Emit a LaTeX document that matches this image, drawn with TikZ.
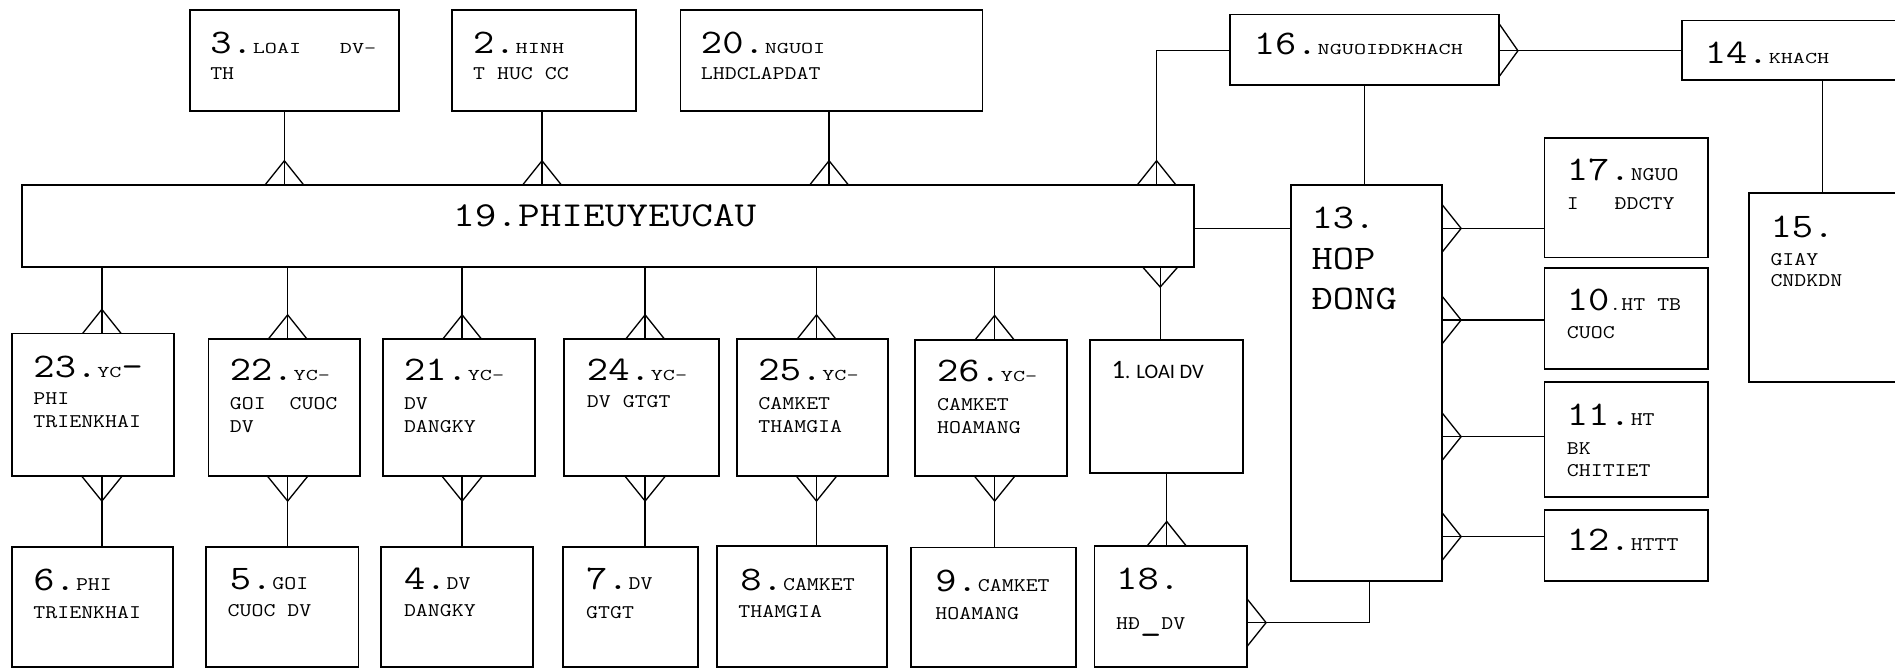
\documentclass[tikz,border=0pt]{standalone}
\usepackage{fontspec}
\newfontfamily\monofam[FakeStretch=1.2]{Latin Modern Mono}
\newfontfamily\monocap[FakeStretch=1.43]{Latin Modern Mono}
\newfontfamily\calfam{Carlito}
\newcommand\NumF{\monofam\fontsize{28.5}{28.5}\selectfont}
\newcommand\CapF{\monocap\fontsize{13.6}{13.6}\selectfont}
\newcommand\TxtF{\monofam\fontsize{16}{16}\selectfont}
% entity box given by its top-left and bottom-right corners
\newcommand\EntBox[5]{\node[ebox, minimum width={#4-#2}, minimum height={#5-#3}] (#1) at (#2,#3) {};}
\begin{document}
\begin{tikzpicture}[x=1pt,y=-1pt,
  ebox/.style={draw, line width=1.5pt, anchor=north west, inner sep=0pt, outer sep=0pt},
  link/.style={line width=1.1pt},
  lbl/.style={anchor=base west, inner sep=0pt, outer sep=0pt, font=\TxtF},
  crowup/.pic={\draw[link] (-16,0) -- (0,-20) -- (16,0);},
  crowdown/.pic={\draw[link] (-17,0) -- (0,21) -- (17,0);},
  crowdownsm/.pic={\draw[link] (-14.5,0) -- (0,16.5) -- (14.5,0);},
  crowright/.pic={\draw[link] (0,-20) -- (16,0) -- (0,20);},
  crowrightwide/.pic={\draw[link] (0,-23) -- (16,0) -- (0,22);}
]
\useasboundingbox (0,0) rectangle (1568,552);

% ---------- entities ----------
\EntBox{b3}{157}{8}{330}{92}
\EntBox{b2}{374}{8}{526}{92}
\EntBox{b20}{563}{8}{813}{92}
\EntBox{b16}{1018}{12}{1240}{70}
\EntBox{b14}{1392}{17}{1585}{66.5}
\EntBox{b19}{18}{153}{988}{221}
\EntBox{b13}{1068}{153}{1193}{481}
\EntBox{b17}{1278}{114}{1413}{213}
\EntBox{b10}{1278}{221.5}{1413}{305}
\EntBox{b11}{1278}{316}{1413}{411}
\EntBox{b12}{1278}{422}{1413}{480.5}
\EntBox{b15}{1447}{160}{1585}{316}

\EntBox{b23}{10}{276}{144}{393.6}
\EntBox{b22}{172.5}{280.5}{298}{393.6}
\EntBox{b21}{317}{280.5}{442.6}{393.6}
\EntBox{b24}{467}{280.5}{595}{393.6}
\EntBox{b25}{609.5}{280.5}{735}{393.6}
\EntBox{b26}{757}{281}{883}{393.6}
\EntBox{b1}{902}{281}{1028.5}{391.5}

\EntBox{b6}{10}{452.6}{143}{552}
\EntBox{b5}{170.6}{452.6}{296.6}{552}
\EntBox{b4}{315}{452.6}{441}{552}
\EntBox{b7}{466}{452.6}{577.5}{552}
\EntBox{b8}{593}{452}{734}{552}
\EntBox{b9}{754}{453}{890}{552}
\EntBox{b18}{905.6}{451.5}{1031.6}{552}

% ---------- labels ----------
\node[lbl] (t3a) at (174,44) {{\NumF 3.}{\CapF LOAI\hspace{32pt}DV-}};
\node[lbl] (t3b) at (174,66) {TH};
\node[lbl] (t2a) at (391.5,44) {{\NumF 2.}{\CapF HINH}};
\node[lbl] (t2b) at (391.5,66) {T~HUC~CC};
\node[lbl] (t20a) at (580,44) {{\NumF 20.}{\CapF NGUOI}};
\node[lbl] (t20b) at (580,66) {LHDCLAPDAT};
\node[lbl, font=\monofam\fontsize{29}{29}\selectfont] (t19) at (375,187.6) {19.PHIEUYEUCAU};
\node[lbl] (t16) at (1037.5,45.5) {{\NumF 16.}{\CapF NGUOIĐDKHACH}};
\node[lbl] (t14) at (1410.7,52.4) {{\NumF 14.}{\CapF KHACH}};

\node[lbl, font=\NumF] (t13a) at (1085.3,189) {13.};
\node[lbl, font=\NumF] (t13b) at (1085.3,223.4) {HOP};
\node[lbl, font=\NumF] (t13c) at (1085.3,256.3) {ĐONG};
\node[lbl] (t17a) at (1296.5,149.2) {{\NumF 17.}NGUO};
\node[lbl] (t17b) at (1296.5,173) {I~~~ĐDCTY};
\node[lbl] (t10a) at (1296.5,256.9) {{\NumF 10}.HT~TB};
\node[lbl] (t10b) at (1296.5,280) {CUOC};
\node[lbl] (t11a) at (1296.5,352) {{\NumF 11.}HT};
\node[lbl] (t11b) at (1296.5,376) {BK};
\node[lbl] (t11c) at (1296.5,394.6) {CHITIET};
\node[lbl] (t12) at (1296.5,455.3) {{\NumF 12.}HTTT};
\node[lbl, font=\NumF] (t15a) at (1465,196.4) {15.};
\node[lbl] (t15b) at (1465,219.3) {GIAY};
\node[lbl] (t15c) at (1465,237.2) {CNDKDN};

\node[lbl] (t23a) at (27.7,312.2) {{\NumF 23.}{\CapF YC}{\NumF -}};
\node[lbl] (t23b) at (27.7,335) {PHI};
\node[lbl] (t23c) at (27.7,353.9) {TRIENKHAI};
\node[lbl] (t22a) at (190.2,315.2) {{\NumF 22.}{\CapF YC-}};
\node[lbl] (t22b) at (190.2,339.2) {GOI~~CUOC};
\node[lbl] (t22c) at (190.2,358) {DV};
\node[lbl] (t21a) at (334.3,315.2) {{\NumF 21.}{\CapF YC-}};
\node[lbl] (t21b) at (334.3,339.2) {DV};
\node[lbl] (t21c) at (334.3,358) {DANGKY};
\node[lbl] (t24a) at (485.7,315.2) {{\NumF 24.}{\CapF YC-}};
\node[lbl] (t24b) at (485.7,337.3) {DV~GTGT};
\node[lbl] (t25a) at (627.6,315) {{\NumF 25.}{\CapF YC-}};
\node[lbl] (t25b) at (627.6,339.2) {CAMKET};
\node[lbl] (t25c) at (627.6,358) {THAMGIA};
\node[lbl] (t26a) at (775.4,315.8) {{\NumF 26.}{\CapF YC-}};
\node[lbl] (t26b) at (775.4,340) {CAMKET};
\node[lbl] (t26c) at (775.4,358.4) {HOAMANG};
\node[lbl, font=\calfam\fontsize{17}{17}\selectfont] (t1) at (919.8,313) {{\fontsize{22}{22}\selectfont 1}. LOAI DV};

\node[lbl] (t6a) at (27.7,488.2) {{\NumF 6.}PHI};
\node[lbl] (t6b) at (27.7,511.6) {TRIENKHAI};
\node[lbl] (t5a) at (190.2,488) {{\NumF 5.}GOI};
\node[lbl] (t5b) at (188.4,510.2) {CUOC~DV};
\node[lbl] (t4a) at (334.3,488) {{\NumF 4.}DV};
\node[lbl] (t4b) at (334.3,510.2) {DANGKY};
\node[lbl] (t7a) at (485,488) {{\NumF 7.}DV};
\node[lbl] (t7b) at (485,511.6) {GTGT};
\node[lbl] (t8a) at (612.7,488.7) {{\NumF 8.}CAMKET};
\node[lbl] (t8b) at (611,511) {THAMGIA};
\node[lbl] (t9a) at (774,489.5) {{\NumF 9.}CAMKET};
\node[lbl] (t9b) at (774,513) {HOAMANG};
\node[lbl, font=\NumF] (t18a) at (923.6,488) {18.};
\node[lbl] (t18b) at (923.6,520.5) {HĐ{\NumF\_}DV};

% ---------- connector columns and rows ----------
\coordinate (k3) at (235.3,0);
\coordinate (k2) at (448.5,0);
\coordinate (k20) at (686,0);
\coordinate (k16) at (957,0);
\coordinate (k23) at (84.3,0);
\coordinate (k22) at (238,0);
\coordinate (k21) at (382.4,0);
\coordinate (k24) at (533.8,0);
\coordinate (k25) at (675.6,0);
\coordinate (k26) at (823,0);
\coordinate (k1) at (960,0);
\coordinate (k18) at (965.4,0);
\coordinate (k13) at (1129,0);
\coordinate (k13b) at (1133.3,0);
\coordinate (k15) at (1507.8,0);
\coordinate (h16) at (0,42);
\coordinate (h19) at (0,189);
\coordinate (h17) at (0,189);
\coordinate (h10) at (0,264.8);
\coordinate (h11) at (0,361.3);
\coordinate (h12) at (0,444);
\coordinate (h18) at (0,515.2);

% ---------- relationships ----------
\draw[link] (b3.south -| k3) -- (b19.north -| k3);
\draw[link] (b2.south -| k2) -- (b19.north -| k2);
\draw[link] (b20.south -| k20) -- (b19.north -| k20);
\draw[link] (b16.west |- h16) -| (b19.north -| k16);
\draw[link] (b16.east |- h16) -- (b14.west |- h16);
\draw[link] (b16.south -| k13) -- (b13.north -| k13);
\draw[link] (b14.south -| k15) -- (b15.north -| k15);
\draw[link] (b19.east |- h19) -- (b13.west |- h19);
\draw[link] (b13.east |- h17) -- (b17.west |- h17);
\draw[link] (b13.east |- h10) -- (b10.west |- h10);
\draw[link] (b13.east |- h11) -- (b11.west |- h11);
\draw[link] (b13.east |- h12) -- (b12.west |- h12);
\draw[link] (b18.east |- h18) -| (b13.south -| k13b);
\draw[link] (b19.south -| k1) -- (b1.north -| k1);
\draw[link] (b1.south -| k18) -- (b18.north -| k18);

\foreach \up/\dn/\k in {b23/b6/k23, b22/b5/k22, b21/b4/k21, b24/b7/k24, b25/b8/k25, b26/b9/k26} {
  \draw[link] (b19.south -| \k) -- (\up.north -| \k);
  \draw[link] (\up.south -| \k) -- (\dn.north -| \k);
  \pic at (\up.north -| \k) {crowup};
  \pic at (\up.south -| \k) {crowdown};
}

% ---------- crow's feet ----------
\pic at (b19.north -| k3) {crowup};
\pic at (b19.north -| k2) {crowup};
\pic at (b19.north -| k20) {crowup};
\pic at (b19.north -| k16) {crowup};
\pic at (b19.south -| k1) {crowdownsm};
\pic at (b18.north -| k18) {crowup};
\pic at (b16.east |- h16) {crowrightwide};
\pic at (b13.east |- h17) {crowright};
\pic at (b13.east |- h10) {crowright};
\pic at (b13.east |- h11) {crowright};
\pic at (b13.east |- h12) {crowright};
\pic at (b18.east |- h18) {crowright};
\end{tikzpicture}
\end{document}
